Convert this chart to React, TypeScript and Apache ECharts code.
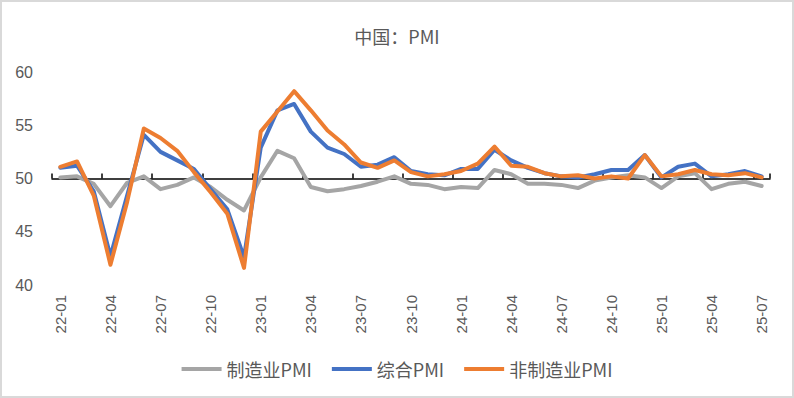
import React, { useEffect, useRef } from "react";
import * as echarts from "echarts";

const categories = [
  "22-01", "22-02", "22-03", "22-04", "22-05", "22-06", "22-07", "22-08", "22-09", "22-10", "22-11", "22-12",
  "23-01", "23-02", "23-03", "23-04", "23-05", "23-06", "23-07", "23-08", "23-09", "23-10", "23-11", "23-12",
  "24-01", "24-02", "24-03", "24-04", "24-05", "24-06", "24-07", "24-08", "24-09", "24-10", "24-11", "24-12",
  "25-01", "25-02", "25-03", "25-04", "25-05", "25-06", "25-07",
];

const manufacturing = [
  50.1, 50.2, 49.5, 47.4, 49.6, 50.2, 49.0, 49.4, 50.1, 49.2, 48.0, 47.0,
  50.1, 52.6, 51.9, 49.2, 48.8, 49.0, 49.3, 49.7, 50.2, 49.5, 49.4, 49.0,
  49.2, 49.1, 50.8, 50.4, 49.5, 49.5, 49.4, 49.1, 49.8, 50.1, 50.3, 50.1,
  49.1, 50.2, 50.5, 49.0, 49.5, 49.7, 49.3,
];

const composite = [
  51.0, 51.2, 48.8, 42.7, 48.4, 54.1, 52.5, 51.7, 50.9, 49.0, 47.1, 42.6,
  52.9, 56.4, 57.0, 54.4, 52.9, 52.3, 51.1, 51.3, 52.0, 50.7, 50.4, 50.3,
  50.9, 50.9, 52.7, 51.7, 51.0, 50.5, 50.2, 50.1, 50.4, 50.8, 50.8, 52.2,
  50.1, 51.1, 51.4, 50.2, 50.4, 50.7, 50.2,
];

const nonManufacturing = [
  51.1, 51.6, 48.4, 41.9, 47.8, 54.7, 53.8, 52.6, 50.6, 48.7, 46.7, 41.6,
  54.4, 56.3, 58.2, 56.4, 54.5, 53.2, 51.5, 51.0, 51.7, 50.6, 50.2, 50.4,
  50.7, 51.4, 53.0, 51.2, 51.1, 50.5, 50.2, 50.3, 50.0, 50.2, 50.0, 52.2,
  50.2, 50.4, 50.8, 50.4, 50.3, 50.5, 50.1,
];

const seriesNames = ["制造业PMI", "综合PMI", "非制造业PMI"];
const seriesColors = ["#A5A5A5", "#4472C4", "#ED7D31"];
const yMin = 40;
const yMax = 60;
const yStep = 5;
const baseline = 50;

export default function App() {
  const ref = useRef<HTMLDivElement>(null);

  useEffect(() => {
    if (!ref.current) return;
    const chart = echarts.init(ref.current, undefined, { renderer: "svg" });
    const gridTop = 72;
    const gridBottom = 113;
    const plotH = 398 - gridTop - gridBottom;
    const baseOffset = -((baseline - yMin) / (yMax - yMin)) * plotH;
    const values = [manufacturing, composite, nonManufacturing];

    chart.setOption({
      animation: false,
      backgroundColor: "#ffffff",
      title: {
        text: "中国：PMI",
        left: "center",
        top: 22,
        textStyle: {
          fontSize: 18,
          fontWeight: "normal",
          color: "#595959",
          fontFamily: "Noto Sans CJK SC",
        },
      },
      legend: {
        data: seriesNames,
        top: 355,
        left: "center",
        icon: "rect",
        itemWidth: 40,
        itemHeight: 4,
        itemGap: 20,
        textStyle: {
          fontSize: 18,
          color: "#595959",
          fontFamily: "Noto Sans CJK SC",
        },
      },
      grid: { left: 52, right: 24, top: gridTop, bottom: gridBottom },
      xAxis: [
        {
          type: "category",
          data: categories,
          boundaryGap: true,
          axisLine: { show: false },
          axisTick: { show: false },
          axisLabel: {
            interval: 2,
            rotate: 90,
            fontSize: 15,
            color: "#595959",
            margin: 10,
            fontFamily: "Liberation Sans",
          },
          splitLine: { show: false },
        },
        {
          type: "category",
          data: categories,
          boundaryGap: true,
          position: "bottom",
          offset: baseOffset,
          axisLine: { show: true, lineStyle: { color: "#000000", width: 1.5 } },
          axisTick: {
            show: true,
            interval: 2,
            inside: true,
            length: 5,
            lineStyle: { color: "#000000", width: 1.5 },
          },
          axisLabel: { show: false },
          splitLine: { show: false },
        },
      ],
      yAxis: {
        type: "value",
        min: yMin,
        max: yMax,
        interval: yStep,
        axisLine: { show: false },
        axisTick: { show: false },
        splitLine: { show: false },
        axisLabel: {
          fontSize: 16,
          color: "#595959",
          margin: 19,
          fontFamily: "Liberation Sans",
        },
      },
      series: seriesNames.map((name, i) => ({
        name,
        type: "line",
        xAxisIndex: 0,
        data: values[i],
        symbol: "none",
        lineStyle: { color: seriesColors[i], width: 4, join: "round", cap: "round" },
        itemStyle: { color: seriesColors[i] },
        z: 2 + i,
      })),
    });
    return () => chart.dispose();
  }, []);

  return (
    <div style={{ position: "fixed", left: 0, top: 0, width: 794, height: 398 }}>
      <div ref={ref} style={{ position: "absolute", left: 0, top: 0, width: 794, height: 398 }} />
      <div
        style={{
          position: "absolute",
          left: 0,
          top: 0,
          width: 794,
          height: 398,
          boxSizing: "border-box",
          border: "2px solid #d9d9d9",
          pointerEvents: "none",
        }}
      />
    </div>
  );
}
